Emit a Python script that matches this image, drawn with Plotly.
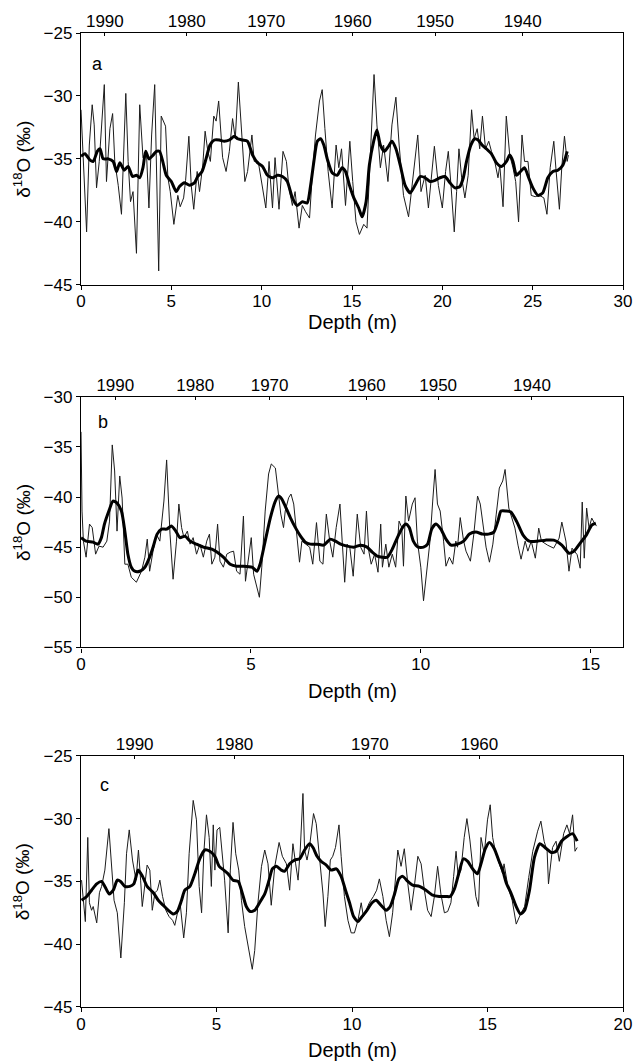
import plotly.graph_objects as go

# ---- panel a ----
a_depth = [0.0, 0.31, 0.46, 0.62, 0.73, 0.86, 1.01, 1.29, 1.41, 1.60, 1.75, 1.87, 2.06, 2.24, 2.48, 2.61, 2.74, 2.88,
           3.07, 3.25, 3.43, 3.62, 3.76, 3.91, 4.08, 4.17, 4.30, 4.44, 4.57, 4.68, 4.81, 4.94, 5.14, 5.36, 5.49, 5.68,
           5.79, 5.97, 6.10, 6.24, 6.43, 6.56, 6.74, 6.87, 7.02, 7.16, 7.35, 7.48, 7.62, 7.84, 8.03, 8.21, 8.39, 8.54,
           8.71, 8.85, 9.07, 9.22, 9.46, 9.59, 9.81, 10.23, 10.41, 10.60, 10.74, 10.96, 11.18, 11.37, 11.51, 11.70,
           11.85, 12.07, 12.25, 12.43, 12.65, 12.80, 12.98, 13.20, 13.35, 13.50, 13.68, 13.90, 14.12, 14.27, 14.42,
           14.64, 14.88, 15.04, 15.22, 15.41, 15.65, 15.83, 16.01, 16.22, 16.38, 16.57, 16.75, 16.99, 17.21, 17.43,
           17.61, 17.85, 18.13, 18.31, 18.49, 18.64, 18.82, 19.05, 19.23, 19.41, 19.56, 19.78, 20.00, 20.18, 20.33,
           20.48, 20.66, 20.79, 20.92, 21.07, 21.25, 21.43, 21.62, 21.76, 21.93, 22.07, 22.22, 22.39, 22.57, 22.72,
           22.90, 23.08, 23.18, 23.36, 23.54, 23.73, 23.91, 24.06, 24.22, 24.41, 24.55, 24.74, 24.92, 25.14, 25.38,
           25.62, 25.79, 25.97, 26.17, 26.30, 26.48, 26.61, 26.76, 26.91, 26.98]
a_d18o = [-31.1, -40.8, -33.9, -30.7, -32.3, -37.3, -35.2, -29.1, -36.8, -32.6, -31.4, -35.2, -37.1, -39.4, -29.8,
          -35.2, -38.4, -37.6, -42.5, -30.7, -34.9, -34.4, -38.9, -33.1, -29.1, -34.4, -43.9, -31.6, -32.0, -32.4,
          -36.5, -37.6, -40.2, -37.9, -38.8, -38.1, -36.7, -33.2, -37.1, -39.0, -36.0, -37.6, -35.5, -32.8, -34.4,
          -35.2, -31.6, -32.0, -30.4, -34.9, -36.0, -34.4, -31.8, -33.4, -28.9, -31.8, -36.8, -36.0, -33.1, -35.2,
          -35.2, -38.9, -35.2, -38.9, -34.9, -39.0, -34.4, -35.2, -37.3, -38.7, -37.6, -40.5, -38.7, -39.2, -39.7,
          -36.3, -33.1, -30.4, -29.5, -32.6, -36.0, -38.9, -33.9, -35.7, -34.2, -38.7, -33.6, -36.8, -40.0, -41.0,
          -40.2, -40.5, -34.4, -28.3, -32.3, -35.7, -33.9, -36.8, -32.3, -30.1, -33.9, -37.9, -39.6, -37.3, -35.5,
          -33.1, -37.6, -36.3, -38.9, -36.5, -34.0, -37.1, -38.9, -36.0, -34.4, -37.1, -40.8, -37.6, -34.2, -36.5,
          -38.1, -36.3, -31.1, -33.4, -32.6, -34.2, -31.6, -34.2, -33.6, -34.4, -35.2, -36.5, -35.5, -38.8, -31.6,
          -34.7, -35.7, -36.8, -40.0, -33.1, -35.2, -35.2, -37.9, -38.0, -37.9, -38.1, -39.4, -35.7, -33.6, -36.0,
          -39.0, -35.7, -33.2, -35.2, -34.7]
a_smooth_depth = [0.0, 0.22, 0.50, 0.68, 0.90, 1.05, 1.23, 1.51, 1.78, 1.97, 2.15, 2.39, 2.61, 2.85, 3.07, 3.25, 3.43,
                  3.58, 3.76, 3.99, 4.17, 4.35, 4.54, 4.72, 5.00, 5.27, 5.45, 5.73, 6.00, 6.28, 6.46, 6.70, 6.92,
                  7.14, 7.38, 7.66, 7.93, 8.21, 8.49, 8.67, 8.94, 9.22, 9.50, 9.77, 10.05, 10.32, 10.60, 10.87,
                  11.15, 11.42, 11.70, 11.97, 12.25, 12.52, 12.71, 12.89, 13.08, 13.26, 13.44, 13.63, 13.90, 14.18,
                  14.45, 14.64, 14.86, 15.10, 15.37, 15.56, 15.78, 15.96, 16.20, 16.38, 16.57, 16.80, 17.02, 17.21,
                  17.43, 17.67, 17.94, 18.22, 18.49, 18.77, 19.05, 19.32, 19.60, 19.87, 20.15, 20.42, 20.70, 20.97,
                  21.16, 21.34, 21.58, 21.80, 21.98, 22.20, 22.44, 22.72, 22.99, 23.27, 23.55, 23.73, 23.91, 24.10,
                  24.33, 24.55, 24.78, 25.01, 25.29, 25.56, 25.84, 26.12, 26.39, 26.67, 26.91]
a_smooth_d18o = [-34.8, -34.6, -35.1, -35.2, -34.4, -34.2, -35.0, -35.0, -35.2, -36.0, -35.3, -35.9, -35.6, -36.4,
                 -36.3, -36.5, -35.7, -34.4, -35.0, -34.7, -34.4, -34.4, -35.3, -36.3, -36.8, -37.6, -37.2, -36.9,
                 -37.1, -36.9, -36.4, -36.0, -35.0, -33.9, -33.5, -33.5, -33.6, -33.5, -33.2, -33.4, -33.5, -33.6,
                 -34.7, -35.3, -35.6, -36.3, -36.5, -36.3, -36.4, -36.8, -38.1, -38.7, -38.4, -38.5, -37.1, -35.2,
                 -33.6, -33.4, -33.9, -35.0, -36.1, -36.3, -35.7, -36.0, -37.1, -38.1, -38.9, -39.6, -38.4, -35.5,
                 -33.6, -32.7, -33.9, -34.4, -34.0, -33.6, -34.2, -35.5, -37.1, -37.7, -37.1, -36.4, -36.5, -36.8,
                 -36.7, -36.5, -36.4, -36.9, -37.3, -37.2, -36.5, -35.2, -33.9, -33.4, -33.5, -33.9, -34.2, -34.6,
                 -35.3, -35.6, -35.2, -34.7, -35.2, -36.3, -36.0, -35.7, -36.5, -37.3, -37.9, -37.7, -36.5, -36.0,
                 -35.9, -35.5, -34.4]
a_year_depth = [1.32, 5.85, 10.25, 15.04, 19.6, 24.45]
a_years = ["1990", "1980", "1970", "1960", "1950", "1940"]

# ---- panel b ----
b_depth = [0.0, 0.03, 0.07, 0.15, 0.25, 0.33, 0.43, 0.53, 0.65, 0.76, 0.84, 0.92, 0.99, 1.06, 1.14, 1.21, 1.29, 1.38,
           1.48, 1.63, 1.78, 1.88, 1.95, 2.02, 2.12, 2.22, 2.32, 2.44, 2.52, 2.62, 2.71, 2.81, 2.88, 2.96, 3.03, 3.13,
           3.21, 3.30, 3.40, 3.50, 3.60, 3.70, 3.78, 3.85, 3.94, 4.02, 4.09, 4.19, 4.29, 4.39, 4.49, 4.58, 4.68, 4.78,
           4.84, 4.93, 5.01, 5.08, 5.18, 5.25, 5.32, 5.42, 5.52, 5.60, 5.72, 5.82, 5.88, 5.96, 6.01, 6.11, 6.18, 6.26,
           6.34, 6.43, 6.50, 6.60, 6.73, 6.82, 6.93, 7.03, 7.12, 7.22, 7.32, 7.41, 7.51, 7.62, 7.70, 7.76, 7.83, 7.91,
           8.01, 8.13, 8.23, 8.33, 8.40, 8.47, 8.54, 8.64, 8.74, 8.82, 8.87, 8.97, 9.06, 9.16, 9.26, 9.36, 9.44, 9.49,
           9.56, 9.64, 9.75, 9.83, 9.90, 10.00, 10.08, 10.17, 10.27, 10.35, 10.42, 10.49, 10.57, 10.67, 10.74, 10.84,
           10.94, 11.03, 11.08, 11.16, 11.26, 11.33, 11.46, 11.56, 11.67, 11.75, 11.82, 11.92, 12.02, 12.12, 12.22,
           12.31, 12.41, 12.48, 12.59, 12.77, 12.86, 12.95, 13.07, 13.15, 13.25, 13.37, 13.47, 13.55, 13.73, 13.91,
           14.07, 14.15, 14.27, 14.36, 14.45, 14.60, 14.69, 14.75, 14.81, 14.88, 14.95, 15.03, 15.11, 15.17]
b_d18o = [-33.5, -41.4, -44.4, -46.0, -42.7, -43.05, -45.7, -44.9, -45.0, -44.4, -42.4, -34.8, -37.4, -43.4, -37.9,
          -40.1, -46.7, -46.7, -48.0, -48.5, -47.4, -46.0, -44.2, -47.4, -45.4, -43.7, -44.4, -40.4, -36.3, -43.7,
          -48.2, -44.4, -40.7, -43.05, -44.05, -43.4, -44.7, -44.05, -45.7, -44.7, -46.0, -44.4, -43.7, -46.7, -46.0,
          -42.7, -46.4, -47.0, -45.7, -45.5, -45.4, -47.4, -47.7, -41.9, -48.4, -46.0, -44.05, -47.7, -49.0, -50.0,
          -47.0, -41.4, -37.7, -36.7, -37.1, -39.7, -41.7, -43.05, -41.4, -40.07, -39.7, -40.7, -43.7, -46.5, -44.4,
          -44.7, -45.0, -46.7, -42.55, -46.4, -46.7, -41.7, -44.4, -46.0, -43.05, -40.7, -44.7, -48.5, -44.7, -45.0,
          -47.9, -41.7, -45.0, -45.7, -41.4, -45.4, -46.7, -45.7, -47.5, -42.7, -47.0, -44.7, -47.0, -45.7, -47.0,
          -42.4, -43.05, -46.9, -39.9, -42.4, -40.7, -40.07, -44.4, -47.0, -50.35, -47.7, -44.4, -40.4, -37.25,
          -40.7, -41.4, -44.4, -46.9, -46.0, -46.7, -44.4, -45.0, -42.05, -44.4, -45.4, -46.4, -43.7, -39.9, -40.7,
          -42.4, -45.0, -46.5, -44.7, -41.7, -39.1, -38.4, -37.25, -41.1, -43.1, -44.8, -46.2, -44.4, -45.4, -44.4,
          -46.1, -43.1, -44.4, -44.8, -45.1, -44.1, -42.5, -44.4, -47.4, -45.1, -45.75, -47.1, -40.5, -46.1, -41.1,
          -43.1, -42.1, -42.6, -42.9]
b_smooth_depth = [0.0, 0.15, 0.35, 0.50, 0.60, 0.69, 0.82, 0.94, 1.06, 1.19, 1.29, 1.38, 1.48, 1.58, 1.73, 1.88, 2.02,
                  2.12, 2.24, 2.37, 2.52, 2.66, 2.79, 2.91, 3.06, 3.21, 3.40, 3.60, 3.85, 4.01, 4.19, 4.39, 4.58,
                  4.78, 5.03, 5.18, 5.27, 5.42, 5.57, 5.72, 5.82, 5.91, 6.01, 6.16, 6.31, 6.46, 6.60, 6.75, 6.95,
                  7.14, 7.34, 7.49, 7.64, 7.83, 8.03, 8.23, 8.42, 8.57, 8.72, 8.87, 9.02, 9.16, 9.31, 9.46, 9.56,
                  9.66, 9.78, 9.92, 10.08, 10.20, 10.32, 10.44, 10.59, 10.74, 10.89, 11.08, 11.26, 11.43, 11.62,
                  11.82, 11.99, 12.15, 12.27, 12.36, 12.51, 12.65, 12.83, 13.01, 13.19, 13.43, 13.67, 13.91, 14.15,
                  14.36, 14.51, 14.69, 14.87, 15.03, 15.15]
b_smooth_d18o = [-44.05, -44.4, -44.5, -44.7, -44.05, -42.7, -41.4, -40.4, -40.6, -41.4, -43.4, -45.7, -47.0, -47.4,
                 -47.4, -47.0, -46.0, -45.0, -43.7, -43.2, -43.2, -42.9, -43.4, -44.05, -43.9, -44.4, -44.7, -45.0,
                 -45.2, -45.5, -46.0, -46.7, -46.9, -46.9, -47.0, -47.4, -46.7, -44.4, -42.1, -40.4, -39.9, -40.2,
                 -40.9, -42.05, -43.05, -43.9, -44.5, -44.7, -44.7, -44.8, -44.2, -44.4, -44.7, -44.9, -45.0, -44.8,
                 -45.0, -45.5, -45.9, -46.0, -46.0, -45.2, -44.05, -43.05, -42.7, -43.05, -44.4, -45.0, -45.0, -44.7,
                 -43.2, -42.7, -43.2, -44.2, -44.8, -44.7, -44.4, -43.7, -43.5, -43.7, -43.7, -43.5, -42.4, -41.4,
                 -41.4, -41.5, -42.5, -43.8, -44.4, -44.4, -44.3, -44.3, -44.8, -45.6, -45.4, -44.6, -43.8, -42.8,
                 -42.6]
b_year_depth = [1.01, 3.36, 5.55, 8.41, 10.51, 13.27]
b_years = ["1990", "1980", "1970", "1960", "1950", "1940"]

# ---- panel c ----
c_depth = [0.02, 0.09, 0.16, 0.25, 0.31, 0.39, 0.45, 0.58, 0.68, 0.76, 0.88, 1.03, 1.13, 1.22, 1.34, 1.47, 1.60, 1.68,
           1.78, 1.90, 2.03, 2.12, 2.20, 2.26, 2.36, 2.44, 2.54, 2.63, 2.73, 2.82, 2.91, 3.01, 3.13, 3.25, 3.38, 3.46,
           3.58, 3.67, 3.79, 3.89, 3.99, 4.14, 4.26, 4.36, 4.45, 4.53, 4.63, 4.73, 4.81, 4.88, 4.94, 5.02, 5.12, 5.22,
           5.30, 5.43, 5.51, 5.61, 5.71, 5.82, 5.92, 6.04, 6.20, 6.32, 6.41, 6.53, 6.66, 6.78, 6.90, 7.02, 7.15, 7.31,
           7.43, 7.58, 7.70, 7.82, 7.92, 8.01, 8.09, 8.19, 8.25, 8.34, 8.43, 8.58, 8.68, 8.80, 8.93, 9.01, 9.11, 9.20,
           9.29, 9.39, 9.52, 9.60, 9.72, 9.85, 9.97, 10.09, 10.22, 10.34, 10.42, 10.52, 10.64, 10.79, 10.91, 11.01,
           11.14, 11.26, 11.38, 11.50, 11.60, 11.69, 11.81, 11.93, 12.06, 12.18, 12.30, 12.43, 12.55, 12.67, 12.79,
           12.92, 13.04, 13.16, 13.28, 13.41, 13.53, 13.65, 13.75, 13.84, 13.92, 14.02, 14.14, 14.24, 14.35, 14.48,
           14.57, 14.67, 14.76, 14.88, 15.00, 15.10, 15.19, 15.31, 15.43, 15.56, 15.61, 15.76, 15.91, 16.06, 16.22,
           16.37, 16.52, 16.67, 16.85, 16.97, 17.09, 17.20, 17.25, 17.40, 17.53, 17.65, 17.81, 17.93, 18.03, 18.14,
           18.23, 18.31]
c_d18o = [-34.9, -36.7, -38.2, -31.5, -36.7, -37.3, -37.0, -38.3, -35.9, -35.4, -34.1, -30.8, -33.6, -36.5, -37.5,
          -41.1, -36.7, -32.8, -30.9, -33.3, -34.9, -32.5, -34.9, -37.0, -35.2, -33.7, -34.1, -37.3, -35.9, -35.7,
          -34.9, -36.2, -37.3, -37.8, -38.1, -38.5, -37.3, -37.0, -39.5, -37.5, -32.8, -28.55, -30.1, -35.4, -37.5,
          -32.8, -29.7, -31.5, -35.4, -30.5, -34.1, -30.9, -30.7, -33.0, -34.9, -39.1, -34.1, -30.3, -32.8, -34.1,
          -36.5, -38.6, -40.5, -42.0, -40.5, -36.7, -33.8, -32.5, -33.6, -36.9, -33.8, -31.9, -33.0, -33.6, -35.7,
          -32.0, -33.6, -34.9, -32.5, -28.0, -32.5, -33.3, -32.3, -29.6, -30.4, -33.0, -36.0, -38.6, -36.2, -33.3,
          -33.0, -32.3, -30.5, -33.0, -36.2, -38.1, -39.1, -39.1, -38.1, -36.7, -37.8, -37.3, -36.7, -36.2, -35.7,
          -34.8, -36.2, -38.1, -39.4, -37.5, -35.2, -32.5, -33.8, -32.4, -35.2, -37.3, -35.4, -33.0, -33.6, -35.7,
          -37.3, -37.8, -36.2, -33.8, -36.0, -37.5, -37.4, -36.7, -34.6, -32.6, -34.6, -34.1, -31.5, -30.0, -31.7,
          -34.1, -36.2, -37.0, -31.5, -32.8, -30.1, -28.9, -31.5, -32.8, -33.6, -34.4, -33.6, -35.5, -36.5, -38.4,
          -37.6, -37.0, -34.7, -32.6, -31.0, -30.2, -31.8, -32.6, -35.2, -32.3, -31.8, -33.4, -31.2, -30.5, -31.2,
          -29.7, -32.6, -32.3]
c_smooth_depth = [0.02, 0.21, 0.39, 0.58, 0.76, 0.88, 1.04, 1.19, 1.34, 1.46, 1.62, 1.80, 1.95, 2.11, 2.27, 2.44, 2.67,
                  2.85, 3.03, 3.22, 3.40, 3.55, 3.71, 3.83, 4.02, 4.20, 4.38, 4.57, 4.75, 4.94, 5.10, 5.27, 5.43,
                  5.61, 5.80, 5.96, 6.10, 6.25, 6.41, 6.59, 6.78, 6.94, 7.06, 7.21, 7.39, 7.51, 7.70, 7.88, 8.07,
                  8.25, 8.43, 8.56, 8.71, 8.86, 9.05, 9.23, 9.42, 9.60, 9.76, 9.91, 10.06, 10.22, 10.37, 10.55,
                  10.74, 10.89, 11.07, 11.26, 11.41, 11.57, 11.73, 11.87, 12.06, 12.24, 12.49, 12.73, 12.98, 13.22,
                  13.47, 13.62, 13.78, 13.96, 14.11, 14.27, 14.45, 14.63, 14.76, 14.92, 15.07, 15.25, 15.41, 15.56,
                  15.69, 15.88, 16.06, 16.22, 16.37, 16.55, 16.73, 16.93, 17.12, 17.35, 17.53, 17.73, 17.95, 18.14,
                  18.31]
c_smooth_d18o = [-36.5, -36.2, -35.7, -35.2, -35.0, -35.4, -36.0, -35.7, -34.9, -35.0, -35.4, -35.4, -35.2, -34.1,
                 -34.6, -35.4, -35.9, -36.5, -36.9, -37.3, -37.6, -37.4, -36.5, -35.7, -35.4, -34.4, -33.2, -32.5,
                 -32.6, -33.0, -33.8, -34.1, -34.4, -34.9, -35.0, -36.0, -37.0, -37.4, -37.3, -36.7, -36.0, -34.9,
                 -34.0, -33.8, -34.1, -34.2, -33.6, -33.3, -33.2, -32.5, -32.0, -32.3, -33.0, -33.4, -33.7, -34.1,
                 -34.0, -34.6, -35.7, -36.7, -37.8, -38.2, -37.8, -37.3, -36.7, -36.5, -36.9, -37.3, -37.0, -36.0,
                 -34.8, -34.6, -35.0, -35.3, -35.4, -35.7, -36.1, -36.2, -36.2, -36.2, -35.6, -34.2, -33.2, -33.4,
                 -34.0, -34.4, -33.6, -32.4, -31.9, -32.4, -33.3, -34.1, -35.1, -36.0, -37.0, -37.6, -37.3, -35.7,
                 -33.1, -32.0, -32.3, -32.7, -32.6, -31.8, -31.4, -31.2, -31.8]
c_year_depth = [1.98, 5.66, 10.66, 14.70]
c_years = ["1990", "1980", "1970", "1960"]

FONT = "Liberation Sans, Arial, sans-serif"

panels = [
    # (thin x, thin y, smooth x, smooth y, year pos, years, x range, y range, domain, letter, letter pos, title gap)
    (a_depth, a_d18o, a_smooth_depth, a_smooth_d18o, a_year_depth, a_years, [0, 30], [-45, -25],
     [0.7415, 1.0], "a", (0.9, -27.5), 37),
    (b_depth, b_d18o, b_smooth_depth, b_smooth_d18o, b_year_depth, b_years, [0, 15.95], [-55, -30],
     [0.3692, 0.6265], "b", (0.65, -32.5), 44),
    (c_depth, c_d18o, c_smooth_depth, c_smooth_d18o, c_year_depth, c_years, [0, 20], [-45, -25],
     [0.0, 0.2579], "c", (0.85, -27.3), 43),
]

fig = go.Figure()
layout = {}
annotations = []

for i, (tx, ty, sx, sy, ypos, ylab, xr, yr, dom, letter, lpos, gap) in enumerate(panels):
    xb = i * 2 + 1          # bottom depth axis
    xt = i * 2 + 2          # top year axis (same scale, overlaid)
    yn = i + 1
    xb_name = "x" if xb == 1 else "x%d" % xb
    xt_name = "x%d" % xt
    y_name = "y" if yn == 1 else "y%d" % yn

    # raw record on the depth axis, smoothed curve on the year axis (identical range)
    fig.add_trace(go.Scatter(x=tx, y=ty, mode="lines", xaxis=xb_name, yaxis=y_name,
                             line=dict(color="#1c1c1c", width=1.0), showlegend=False, hoverinfo="skip"))
    fig.add_trace(go.Scatter(x=sx, y=sy, mode="lines", xaxis=xt_name, yaxis=y_name,
                             line=dict(color="black", width=3.0, shape="spline", smoothing=0.6),
                             showlegend=False, hoverinfo="skip"))

    axis_common = dict(showgrid=False, zeroline=False, showline=True, linecolor="black", linewidth=1.3,
                       tickfont=dict(family=FONT, size=17, color="black"), tickcolor="black")
    layout["xaxis" if xb == 1 else "xaxis%d" % xb] = dict(
        axis_common, domain=[0, 1], anchor=y_name, range=xr, autorange=False, tickmode="array",
        tickvals=list(range(0, int(xr[1]) + 1, 5)), ticks="outside", ticklen=4, ticklabelstandoff=-3)
    layout["xaxis%d" % xt] = dict(
        axis_common, domain=[0, 1], anchor=y_name, overlaying=xb_name, side="top", range=xr,
        autorange=False, tickmode="array", tickvals=ypos, ticktext=ylab, ticks="inside", ticklen=3,
        ticklabelstandoff=-2)
    layout["yaxis" if yn == 1 else "yaxis%d" % yn] = dict(
        axis_common, domain=dom, anchor=xb_name, range=yr, autorange=False, dtick=5, ticks="outside",
        ticklen=4, mirror=True)

    annotations.append(dict(text=letter, x=lpos[0], y=lpos[1], xref=xb_name, yref=y_name, showarrow=False,
                            xanchor="center", yanchor="middle", font=dict(family=FONT, size=18, color="black")))
    annotations.append(dict(text="Depth (m)", x=0.5, y=dom[0], xref="paper", yref="paper", yshift=-gap,
                            showarrow=False, xanchor="center", yanchor="middle",
                            font=dict(family=FONT, size=20, color="black")))
    annotations.append(dict(text="\u03b4<sup>18</sup>O (\u2030)", x=-0.109, y=(dom[0] + dom[1]) / 2,
                            xref="paper", yref="paper", textangle=-90, showarrow=False,
                            xanchor="center", yanchor="middle", font=dict(family=FONT, size=19, color="black")))

fig.update_layout(**layout)
fig.update_layout(annotations=annotations, width=644, height=1063, plot_bgcolor="white", paper_bgcolor="white",
                  margin=dict(l=81, r=18, t=31, b=56), showlegend=False)

# page body has a default 8px margin; drop it so the figure fills the window
fig.write_html("out.html", config={"displayModeBar": False},
               post_script="document.body.style.margin='0px';document.body.style.overflow='hidden';")
